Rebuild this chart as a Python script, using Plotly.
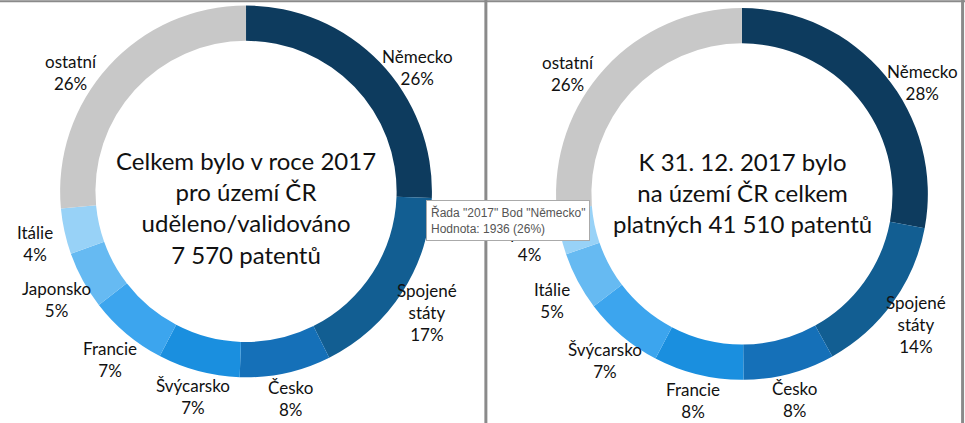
import math
import plotly.graph_objects as go

# Left chart: granted/validated patents in 2017
left_labels = ["Německo", "Spojené<br>státy", "Česko", "Švýcarsko", "Francie", "Japonsko", "Itálie", "ostatní"]
left_values = [1936, 1290, 600, 540, 520, 380, 300, 2004]
left_title = "Celkem bylo v roce 2017<br>pro území ČR<br>uděleno/validováno<br>7 570 patentů"

# Right chart: valid patents as of 31 Dec 2017
right_labels = ["Německo", "Spojené<br>státy", "Česko", "Francie", "Švýcarsko", "Itálie", "Japonsko", "ostatní"]
right_values = [11600, 5800, 3300, 3250, 2900, 2100, 1650, 10910]
right_title = "K 31. 12. 2017 bylo<br>na území ČR celkem<br>platných 41 510 patentů"

colors = ["#0d3b5e", "#125e92", "#1570b8", "#1a8fdf", "#3ca5ee", "#66baf2", "#98d2f7", "#c8c8c8"]

FONT = "Lato"
W, H = 965, 423
PIE_SHIFT = 5  # plotly draws the donut a few px below its domain centre


def donut(labels, values, dx, dy):
    return go.Pie(
        labels=labels, values=values, hole=0.81, sort=False, direction="clockwise",
        rotation=0, marker=dict(colors=colors, line=dict(width=0)),
        textinfo="none",
        automargin=False, showlegend=False,
        domain=dict(x=dx, y=dy),
        hoverinfo="skip",
    )


def label_annotations(labels, values, dx, dy):
    # place each label radially outside its slice, derived from the slice's values
    cx = (dx[0] + dx[1]) / 2 * W
    cy = (1 - (dy[0] + dy[1]) / 2) * H + PIE_SHIFT
    r = min((dx[1] - dx[0]) * W, (dy[1] - dy[0]) * H) / 2
    total = sum(values)
    out = []
    cum = 0
    for lab, v in zip(labels, values):
        theta = 2 * math.pi * (cum + v / 2) / total
        cum += v
        if math.cos(theta) > 0:  # labels in the upper half sit a bit lower
            theta += math.radians(7) * math.sin(2 * theta)
        d = r + 18 + 13 * abs(math.sin(theta))
        x = cx + d * math.sin(theta)
        y = cy - d * math.cos(theta)
        pct = round(100 * v / total)
        out.append(dict(xref="paper", yref="paper", x=x / W, y=1 - y / H,
                        xanchor="center", yanchor="middle", showarrow=False,
                        text=f"{lab}<br>{pct}%", align="center",
                        font=dict(family=FONT, size=17, color="#111111")))
    return out


LDX, LDY = [0.0622, 0.4477], [0.108, 0.987]
RDX, RDY = [0.576, 0.9617], [0.102, 0.981]

fig = go.Figure()
fig.add_trace(donut(left_labels, left_values, LDX, LDY))
fig.add_trace(donut(right_labels, right_values, RDX, RDY))

annotations = label_annotations(left_labels, left_values, LDX, LDY) + \
    label_annotations(right_labels, right_values, RDX, RDY)
annotations += [
    dict(xref="paper", yref="paper", x=0.2549, y=0.5106, xanchor="center", yanchor="middle",
         text=left_title, showarrow=False, align="center",
         font=dict(family=FONT, size=24, color="#111111")),
    dict(xref="paper", yref="paper", x=0.769, y=0.546, xanchor="center", yanchor="middle",
         text=right_title, showarrow=False, align="center",
         font=dict(family=FONT, size=24, color="#111111")),
]
annotations.append(
    dict(xref="paper", yref="paper", x=0.441, y=0.527, xanchor="left", yanchor="top",
         text="Řada \"2017\" Bod \"Německo\"<br>Hodnota: 1936 (26%)", align="left",
         showarrow=False, bgcolor="white", bordercolor="#aaaaaa", borderwidth=1, borderpad=4,
         font=dict(family="Liberation Sans", size=12, color="#555555")))

fig.update_layout(
    width=W, height=H, margin=dict(l=0, r=0, t=0, b=0),
    paper_bgcolor="white", plot_bgcolor="white",
    font=dict(family=FONT),
    shapes=[
        dict(type="line", xref="paper", yref="paper", x0=0, x1=1, y0=0.997, y1=0.997,
             line=dict(color="#8a8a8a", width=2)),
        dict(type="line", xref="paper", yref="paper", x0=0.9975, x1=0.9975, y0=0, y1=1,
             line=dict(color="#8a8a8a", width=3)),
        dict(type="line", xref="paper", yref="paper", x0=0.5035, x1=0.5035, y0=0, y1=1,
             line=dict(color="#8a8a8a", width=3)),
    ],
    annotations=annotations,
)

fig.write_html("out.html", config={"displayModeBar": False},
               post_script="document.body.style.margin='0';")
